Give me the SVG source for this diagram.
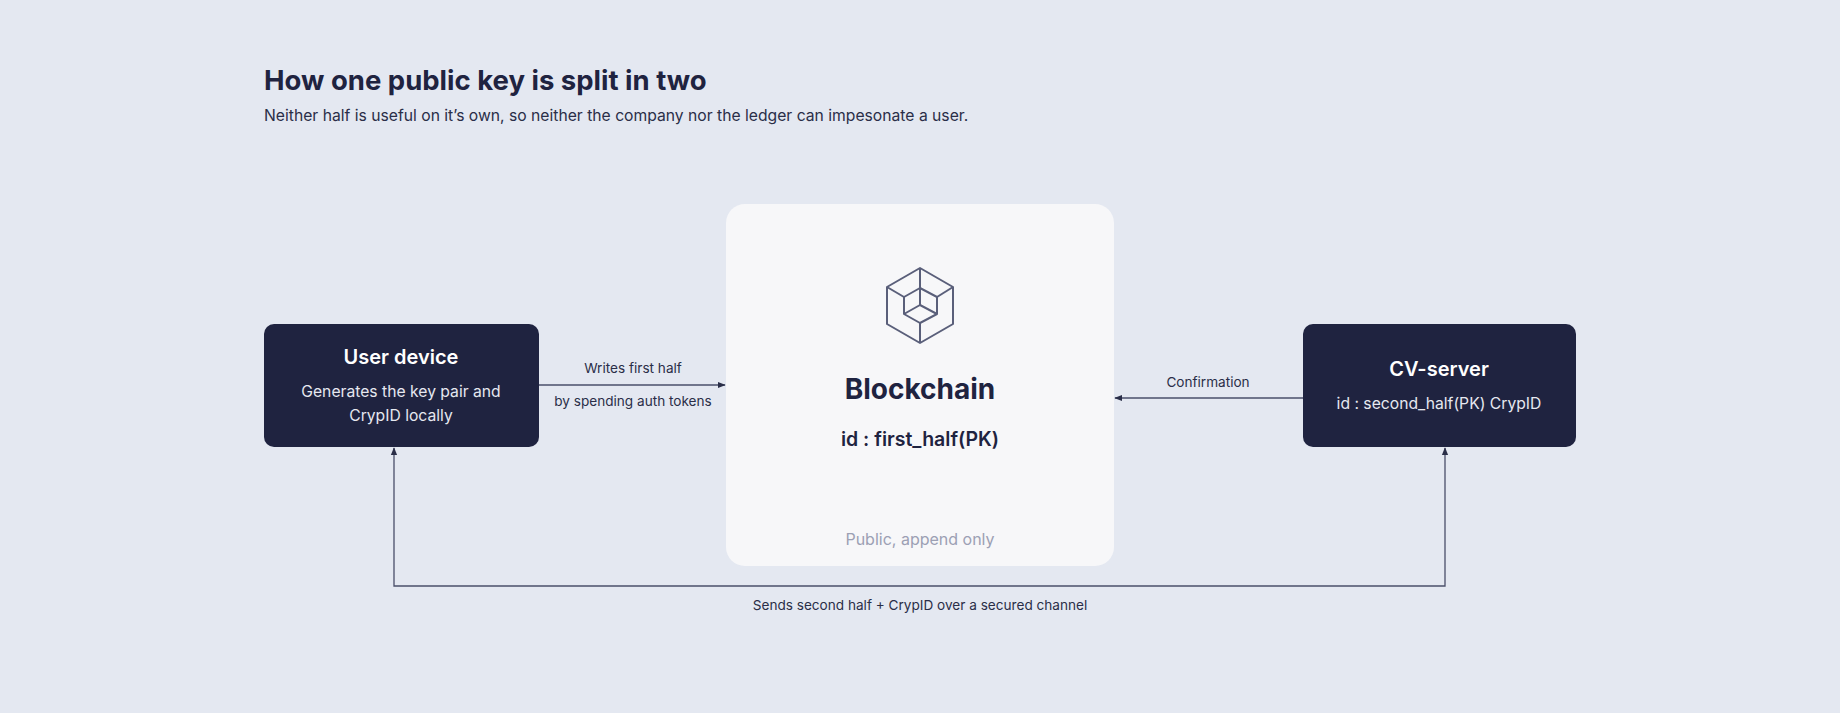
<svg xmlns="http://www.w3.org/2000/svg" width="1840" height="713" viewBox="0 0 1840 713">
<style>
text{font-family:Inter,"Noto Sans","Liberation Sans",sans-serif}
.dark{fill:#1f2340}
.t{fill:#ffffff;font-size:20px;font-weight:600;text-anchor:middle}
.s{fill:#e6e8f0;font-size:15.7px;text-anchor:middle}
.lbl{fill:#2a2e48;font-size:13.6px;text-anchor:middle}
.c{fill:none;stroke:#4a4f6a;stroke-width:1.3}
.ic{fill:none;stroke:#5a5f7a;stroke-width:2;stroke-linejoin:round}
</style>
<defs>
<marker id="ah" viewBox="0 0 10 10" refX="9" refY="5" markerWidth="6" markerHeight="6" orient="auto-start-reverse"><path d="M0,1 L10,5 L0,9 z" fill="#2a2e48"/></marker>
</defs>
<rect width="1840" height="713" fill="#e4e8f1"/>
<text x="264" y="90" font-size="27.5" font-weight="700" fill="#1f2340">How one public key is split in two</text>
<text x="264" y="121" font-size="15.7" fill="#2a2e48">Neither half is useful on it’s own, so neither the company nor the ledger can impesonate a user.</text>
<g id="connectors">
<line class="c" x1="539" y1="385" x2="725" y2="385" marker-end="url(#ah)"/>
<text class="lbl" x="633" y="373">Writes first half</text>
<text class="lbl" x="633" y="406">by spending auth tokens</text>
<line class="c" x1="1303" y1="398" x2="1115" y2="398" marker-end="url(#ah)"/>
<text class="lbl" x="1208" y="387">Confirmation</text>
<polyline class="c" points="394,448 394,586 1445,586 1445,448" marker-start="url(#ah)" marker-end="url(#ah)"/>
<text class="lbl" x="920" y="610">Sends second half + CrypID over a secured channel</text>
</g>
<g id="blockchain">
<rect x="726" y="204" width="388" height="362" rx="19" fill="#f7f7f9"/>
<g class="ic">
<polygon points="920,268 953,287 953,324 920,343 887,324 887,287"/>
<polygon points="904,297 920,288 937,297 937,314 920,323 904,314"/>
<polyline points="904,314 920,305 937,314"/>
<line x1="920" y1="288" x2="920" y2="305"/>
<line x1="920" y1="268" x2="920" y2="288"/>
<line x1="887" y1="287" x2="904" y2="297"/>
<line x1="953" y1="287" x2="937" y2="297"/>
<line x1="920" y1="343" x2="920" y2="323"/>
</g>
<text x="920" y="399" font-size="28" font-weight="700" fill="#1f2340" text-anchor="middle">Blockchain</text>
<text x="920" y="446" font-size="19.5" font-weight="600" fill="#1f2340" text-anchor="middle">id : first_half(PK)</text>
<text x="920" y="545" font-size="16" fill="#9ca0b4" text-anchor="middle">Public, append only</text>
</g>
<g id="user-device">
<rect class="dark" x="264" y="324" width="275" height="123" rx="10"/>
<text class="t" x="401" y="364">User device</text>
<text class="s" x="401" y="397">Generates the key pair and</text>
<text class="s" x="401" y="421">CrypID locally</text>
</g>
<g id="cv-server">
<rect class="dark" x="1303" y="324" width="273" height="123" rx="10"/>
<text class="t" x="1439" y="376">CV-server</text>
<text class="s" x="1439" y="409">id : second_half(PK) CrypID</text>
</g>
</svg>
